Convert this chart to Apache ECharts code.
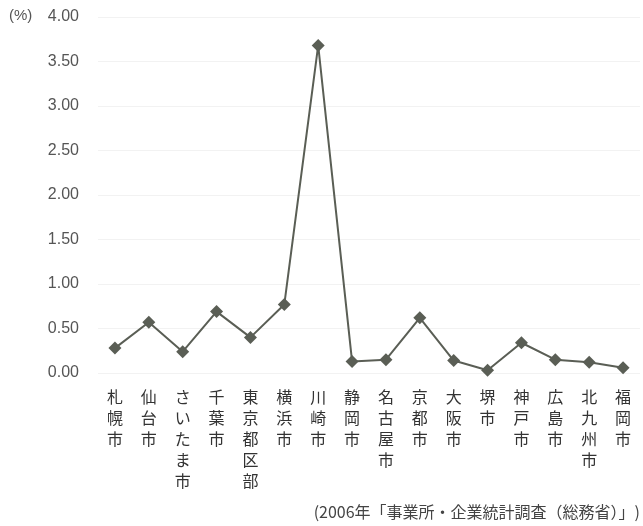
<!DOCTYPE html>
<html>
<head>
<meta charset="utf-8">
<script src="https://cdn.jsdelivr.net/npm/echarts@6/dist/echarts.min.js"></script>
<style>
html,body{margin:0;padding:0;background:#fff;}
#chart{width:643px;height:526px;}
</style>
</head>
<body>
<div id="chart"></div>
<script>
// Cities (vertical labels) and their share values in percent
const cities = ['札幌市','仙台市','さいたま市','千葉市','東京都区部','横浜市','川崎市','静岡市','名古屋市','京都市','大阪市','堺市','神戸市','広島市','北九州市','福岡市'];
const shares = [0.28, 0.57, 0.24, 0.69, 0.40, 0.77, 3.68, 0.13, 0.15, 0.62, 0.14, 0.03, 0.34, 0.15, 0.12, 0.06];
const yTicks = [0, 0.5, 1, 1.5, 2, 2.5, 3, 3.5, 4];
const unitLabel = '(%)';
const sourceNote = '(2006年「事業所・企業統計調査（総務省）」)';

const font = '"Noto Sans CJK JP", "Noto Sans", sans-serif';
const chart = echarts.init(document.getElementById('chart'));
chart.setOption({
  backgroundColor: '#ffffff',
  animation: false,
  grid: { left: 98, right: 3, top: 17, bottom: 153 },
  graphic: [
    { type: 'text', left: 9, top: 8, style: { text: unitLabel, font: '15px "Liberation Sans", sans-serif', fill: '#555' } },
    { type: 'text', right: 3, top: 504, style: { text: sourceNote, font: '16px ' + font, fill: '#444' } }
  ],
  xAxis: {
    type: 'category',
    data: cities,
    boundaryGap: true,
    axisLine: { show: false },
    axisTick: { show: false },
    axisLabel: {
      interval: 0,
      margin: 13,
      color: '#333',
      fontFamily: font,
      fontSize: 16,
      lineHeight: 21,
      verticalAlign: 'top',
      formatter: v => v.split('').join('\n')
    }
  },
  yAxis: {
    type: 'value',
    min: yTicks[0],
    max: yTicks[yTicks.length - 1],
    interval: 0.5,
    axisLine: { show: false },
    axisTick: { show: false },
    splitLine: { show: true, lineStyle: { color: '#f2f2f2', width: 1 } },
    axisLabel: {
      margin: 19,
      color: '#555',
      fontFamily: '"Liberation Sans", Arial, sans-serif',
      fontSize: 16,
      formatter: v => v.toFixed(2)
    }
  },
  series: [{
    type: 'line',
    data: shares,
    symbol: 'diamond',
    symbolSize: 13,
    lineStyle: { color: '#5a5e55', width: 2 },
    itemStyle: { color: '#5a5e55' }
  }]
});
</script>
</body>
</html>
